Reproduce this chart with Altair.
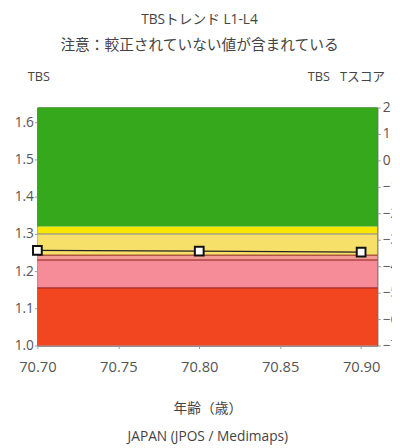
import altair as alt
import pandas as pd

# Bands (TBS units)
band_lo = [1.00, 1.155, 1.23, 1.243, 1.30, 1.32]
band_hi = [1.155, 1.23, 1.243, 1.30, 1.32, 1.64]
band_col = ["#F1461F", "#F58C98", "#F29C96", "#F6E06A", "#F7E600", "#36A81B"]

# Boundary lines
line_y = [1.155, 1.23, 1.243, 1.30]
line_col = ["#8B1A1A", "#8B1A1A", "#8B1A1A", "#7A7FB0"]

# Measurements
ages = [70.70, 70.80, 70.90]
tbs = [1.256, 1.254, 1.251]

# T-score axis range
tscore = [-7, 2]

x_ticks = [70.70, 70.75, 70.80, 70.85, 70.90]
y_ticks = [1.0, 1.1, 1.2, 1.3, 1.4, 1.5, 1.6]
t_ticks = [2, 1, 0, -1, -2, -3, -4, -5, -6, -7]

FONT = "Open Sans, Noto Sans CJK JP"
GREY = "#555555"

bands = pd.DataFrame({"lo": band_lo, "hi": band_hi, "c": band_col})
lines = pd.DataFrame({"y": line_y, "c": line_col})
pts = pd.DataFrame({"age": ages, "tbs": tbs})
tdf = pd.DataFrame({"t": tscore})

xscale = alt.Scale(domain=[70.70, 70.91], nice=False, zero=False)
yscale = alt.Scale(domain=[1.0, 1.64], nice=False, zero=False)

xaxis = alt.Axis(
    values=x_ticks, format=".2f", labelFontSize=15, labelColor=GREY, labelFont=FONT,
    labelPadding=12, tickSize=3, tickColor="#999", domain=False, grid=False,
    title=["年齢（歳）", "JAPAN (JPOS / Medimaps)"], titleFont=FONT, titleFontSize=14,
    titleFontWeight="normal", titleColor="#444", titleLineHeight=29, titlePadding=27,
    labelFlush=False,
)

band_layer = alt.Chart(bands).mark_rect().encode(
    x=alt.value(0), x2=alt.value(347),
    y=alt.Y("lo:Q", scale=yscale, axis=alt.Axis(
        values=y_ticks, format=".1f", labelFontSize=14, labelColor=GREY, labelFont=FONT,
        tickSize=3, tickColor="#999", domain=False, grid=False, labelPadding=1,
        title="TBS", titleAngle=0, titleX=1, titleY=-32, titleAlign="center",
        titleBaseline="middle", titleFont=FONT, titleFontSize=13, titleFontWeight="normal",
        titleColor="#444")),
    y2="hi:Q",
    color=alt.Color("c:N", scale=None),
)

rule_layer = alt.Chart(lines).mark_rule(strokeWidth=1).encode(
    x=alt.value(0), x2=alt.value(347),
    y=alt.Y("y:Q", scale=yscale),
    color=alt.Color("c:N", scale=None),
)

line_layer = alt.Chart(pts).mark_line(color="#222222", strokeWidth=1.2).encode(
    x=alt.X("age:Q", scale=xscale, axis=xaxis),
    y=alt.Y("tbs:Q", scale=yscale),
)

point_layer = alt.Chart(pts).mark_point(
    shape="square", size=80, filled=True, fill="#FFFFFF", stroke="#111111", strokeWidth=2, opacity=1
).encode(
    x=alt.X("age:Q", scale=xscale),
    y=alt.Y("tbs:Q", scale=yscale),
)

left = alt.layer(band_layer, rule_layer, line_layer, point_layer)

right = alt.Chart(tdf).mark_point(opacity=0).encode(
    y=alt.Y("t:Q", scale=alt.Scale(domain=[-7, 2], nice=False, zero=False), axis=alt.Axis(
        orient="right", values=t_ticks, format="d", labelFontSize=14, labelColor=GREY,
        labelFont=FONT, tickSize=3, tickColor="#999", domain=False, grid=False, labelPadding=2,
        title="TBS\u00a0\u00a0\u00a0Tスコア", titleAngle=0, titleX=-32, titleY=-32, titleAlign="center",
        titleBaseline="middle", titleFont=FONT, titleFontSize=13, titleFontWeight="normal",
        titleColor="#444")),
)

chart = alt.layer(left, right).resolve_scale(y="independent").properties(
    width=347, height=243,
    autosize=alt.AutoSizeParams(type="none"),
    padding={"left": 30, "top": 97, "right": 15, "bottom": 100},
    title=alt.TitleParams(
        text="TBSトレンド L1-L4", subtitle="注意：較正されていない値が含まれている",
        font=FONT, subtitleFont=FONT, fontSize=14, subtitleFontSize=15,
        fontWeight="normal", color="#444", subtitleColor="#444",
        anchor="middle", frame="group", dx=-8, subtitlePadding=11, offset=18,
    ),
).configure_view(stroke="#333333", strokeWidth=1)

chart.save("out.html", embed_options={"renderer": "svg", "actions": False})
